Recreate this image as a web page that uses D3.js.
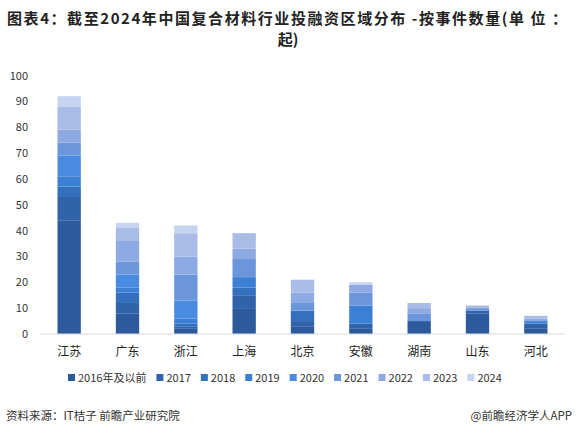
<!DOCTYPE html><html><head><meta charset="utf-8"><script src="https://cdn.jsdelivr.net/npm/d3@7"></script>
<style>body{margin:0;background:#fff}svg{font-family:"Noto Sans CJK SC","Noto Sans",sans-serif}</style></head><body><svg id="c" width="576" height="436"></svg><script>
const categories=["江苏","广东","浙江","上海","北京","安徽","湖南","山东","河北"];
const seriesNames=["2016年及以前","2017","2018","2019","2020","2021","2022","2023","2024"];
const s2016=[44,8,2,10,3,2,5,8,2];
const s2017=[9,4,1,5,2,2,0,1,2];
const s2018=[4,4,1,3,4,0,0,0,0];
const s2019=[4,2,2,4,0,7,0,0,1];
const s2020=[8,5,7,0,0,0,0,0,0];
const s2021=[5,5,10,7,3,5,3,1,0];
const s2022=[5,8,7,4,4,3,2,0,1];
const s2023=[9,5,9,6,5,0,2,1,1];
const s2024=[4,2,3,0,0,1,0,0,0];
const yTicks=[0,10,20,30,40,50,60,70,80,90,100];
const colors=["#2c5a9c","#3063aa","#3470bd","#3c80d6","#4a8be2","#6b96dc","#8eaae2","#a9bce8","#c6d3f1"];
const all=[s2016,s2017,s2018,s2019,s2020,s2021,s2022,s2023,s2024];
const data=categories.map((c,i)=>{const o={cat:c};seriesNames.forEach((s,j)=>o[s]=all[j][i]);return o;});
const svg=d3.select("#c");
const x=d3.scaleBand().domain(categories).range([40,565]).paddingInner(0.6).paddingOuter(0.3);
const y=d3.scaleLinear().domain([0,100]).range([334,75.5]);
const stack=d3.stack().keys(seriesNames)(data);
svg.append("g").selectAll("g").data(stack).join("g").attr("fill",(d,i)=>colors[i])
 .selectAll("rect").data(d=>d).join("rect").attr("x",d=>x(d.data.cat)).attr("width",x.bandwidth())
 .attr("y",d=>y(d[1])).attr("height",d=>y(d[0])-y(d[1]));
svg.append("line").attr("x1",40).attr("x2",565).attr("y1",334).attr("y2",334).attr("stroke","#d9d9d9");
svg.append("g").selectAll("text").data(yTicks).join("text").attr("x",28).attr("y",d=>y(d)+4).attr("text-anchor","end").attr("font-size",11).attr("fill","#333").text(d=>d);
svg.append("g").selectAll("text").data(categories).join("text").attr("x",d=>x(d)+x.bandwidth()/2).attr("y",356).attr("text-anchor","middle").attr("font-size",12).attr("fill","#222").text(d=>d);
const lg=svg.append("g");let lx=68;
seriesNames.forEach((s,i)=>{lg.append("rect").attr("x",lx).attr("y",374).attr("width",7).attr("height",7).attr("fill",colors[i]);
 const t=lg.append("text").attr("x",lx+10).attr("y",381.5).attr("font-size",11).attr("fill","#333").text(s);lx+=t.node().getComputedTextLength()+20;});
svg.append("text").attr("x",7).attr("y",24).attr("font-size",15).attr("font-weight","bold").attr("fill","#222").attr("textLength",560).text("图表4：截至2024年中国复合材料行业投融资区域分布 -按事件数量(单 位 ：");
svg.append("text").attr("x",288).attr("y",45).attr("text-anchor","middle").attr("font-size",15).attr("font-weight","bold").attr("fill","#222").text("起)");
svg.append("text").attr("x",6).attr("y",420).attr("font-size",11.5).attr("fill","#333").text("资料来源：IT桔子 前瞻产业研究院");
svg.append("text").attr("x",572).attr("y",420).attr("text-anchor","end").attr("font-size",11.5).attr("fill","#333").text("@前瞻经济学人APP");
</script></body></html>
